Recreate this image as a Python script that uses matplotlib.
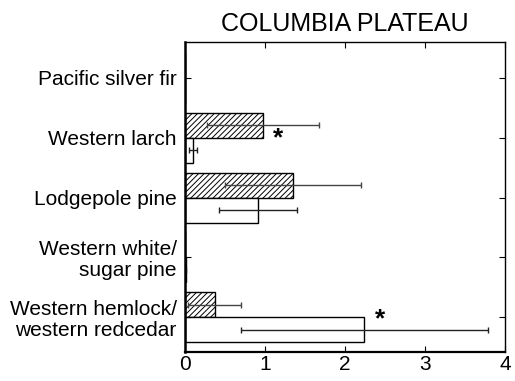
import matplotlib.pyplot as plt
import numpy as np

plt.rcParams['font.family'] = ['Liberation Sans', 'DejaVu Sans']
plt.rcParams['hatch.linewidth'] = 0.7

species = ['Pacific silver fir', 'Western larch', 'Lodgepole pine',
           'Western white/\nsugar pine', 'Western hemlock/\nwestern redcedar']
hatched_vals = [0.0, 0.97, 1.35, 0.0, 0.37]
hatched_err = [0.0, 0.70, 0.85, 0.0, 0.33]
open_vals = [0.0, 0.10, 0.91, 0.01, 2.24]
open_err = [0.0, 0.05, 0.49, 0.01, 1.54]
star_hatched = [False, True, False, False, False]
star_open = [False, False, False, False, True]

fig = plt.figure(figsize=(5.15, 3.81), dpi=100)
ax = fig.add_axes([0.359, 0.076, 0.622, 0.814])

pos = np.arange(len(species))[::-1]
h = 0.417

ax.barh(pos + h / 2, hatched_vals, height=h, color='white', edgecolor='black',
        linewidth=1.0, hatch='//////')
ax.barh(pos - h / 2, open_vals, height=h, color='white', edgecolor='black',
        linewidth=1.0)
for y, v, e in zip(pos, hatched_vals, hatched_err):
    if v > 0:
        ax.errorbar(v, y + h / 2, xerr=e, fmt='none', ecolor='#444444',
                    elinewidth=1.0, capsize=2, capthick=1.0)
for y, v, e in zip(pos, open_vals, open_err):
    if v > 0:
        ax.errorbar(v, y - h / 2, xerr=e, fmt='none', ecolor='#222222',
                    elinewidth=1.0, capsize=2, capthick=1.0)

for y, v, s in zip(pos, hatched_vals, star_hatched):
    if s:
        ax.text(v + 0.19, y - 0.13, '*', fontsize=19, fontweight='bold',
                ha='center', va='baseline')
for y, v, s in zip(pos, open_vals, star_open):
    if s:
        ax.text(v + 0.2, y - 0.15, '*', fontsize=19, fontweight='bold',
                ha='center', va='baseline')

ax.set_xlim(0, 4)
ax.set_ylim(-0.58, 4.6)
ax.set_xticks([0, 1, 2, 3, 4])
ax.set_yticks(pos)
ax.set_yticklabels(species, fontsize=15, linespacing=1.1)
ax.tick_params(axis='x', labelsize=15, direction='in', top=True, length=4, pad=2)
ax.tick_params(axis='y', direction='in', right=True, length=4, pad=6)
for sp in ax.spines.values():
    sp.set_linewidth(1.0)
ax.spines['left'].set_linewidth(1.8)
ax.spines['bottom'].set_linewidth(1.6)

ax.set_title('COLUMBIA PLATEAU', fontsize=18, pad=8)

fig.savefig('out.png', dpi=100)
